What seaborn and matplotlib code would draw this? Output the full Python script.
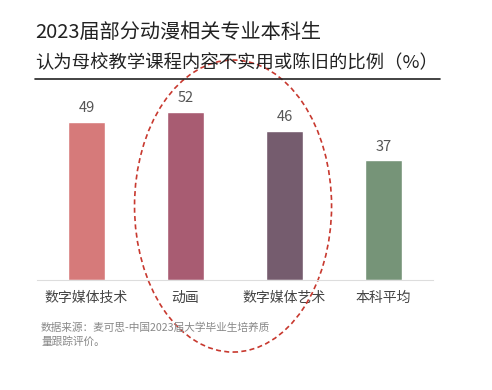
import matplotlib
matplotlib.use('Agg')
import matplotlib.pyplot as plt
import seaborn as sns
import pandas as pd
from matplotlib.patches import Ellipse

# 数据
专业 = ['数字媒体技术', '动画', '数字媒体艺术', '本科平均']
比例 = [49, 52, 46, 37]
颜色 = ['#d67a7a', '#a85c72', '#755c6e', '#769478']

sns.set_style('white')
plt.rcParams['font.family'] = ['Noto Sans CJK SC', 'DejaVu Sans']

df = pd.DataFrame({'major': 专业, 'pct': 比例})

fig = plt.figure(figsize=(4.92, 3.9), dpi=100)
ax = fig.add_axes([0.0752, 0.282, 0.805, 0.497])

sns.barplot(data=df, x='major', y='pct', hue='major', palette=颜色,
            width=0.37, legend=False, ax=ax, saturation=1)

for c in ax.containers:
    ax.bar_label(c, fmt='%d', padding=5, fontsize=10.5, color='#555555')

ax.set_xlim(-0.5, 3.5)
ax.set_ylim(0, 60)
ax.set_xlabel('')
ax.set_ylabel('')
ax.set_yticks([])
ax.tick_params(axis='x', length=0, pad=8, labelsize=10, labelcolor='#444444')
for s in ['top', 'right', 'left']:
    ax.spines[s].set_visible(False)
ax.spines['bottom'].set_color('#dddddd')
ax.spines['bottom'].set_linewidth(0.8)

# 标题
fig.text(35 / 492, 1 - 33 / 390, '2023届部分动漫相关专业本科生', fontsize=14.5,
         color='#222222', va='center', ha='left')
fig.text(35 / 492, 1 - 63 / 390, '认为母校教学课程内容不实用或陈旧的比例（%）', fontsize=13.2,
         color='#222222', va='center', ha='left')
fig.add_artist(plt.Line2D([35 / 492, 440 / 492], [1 - 79 / 390, 1 - 79 / 390],
                          color='#222222', linewidth=1.2))

# 数据来源
fig.text(41 / 492, 1 - 328 / 390, '数据来源：麦可思-中国2023届大学毕业生培养质', fontsize=7.7,
         color='#888888', va='center', ha='left')
fig.text(41 / 492, 1 - 342 / 390, '量跟踪评价。', fontsize=7.7,
         color='#888888', va='center', ha='left')

# 红色虚线椭圆
ell = Ellipse((1.48, 22.9), width=1.99, height=90.4, fill=False,
              edgecolor='#c8392f', linestyle=(0, (3, 2)), linewidth=1.2,
              clip_on=False)
ax.add_patch(ell)

fig.savefig('out.png', dpi=100)
